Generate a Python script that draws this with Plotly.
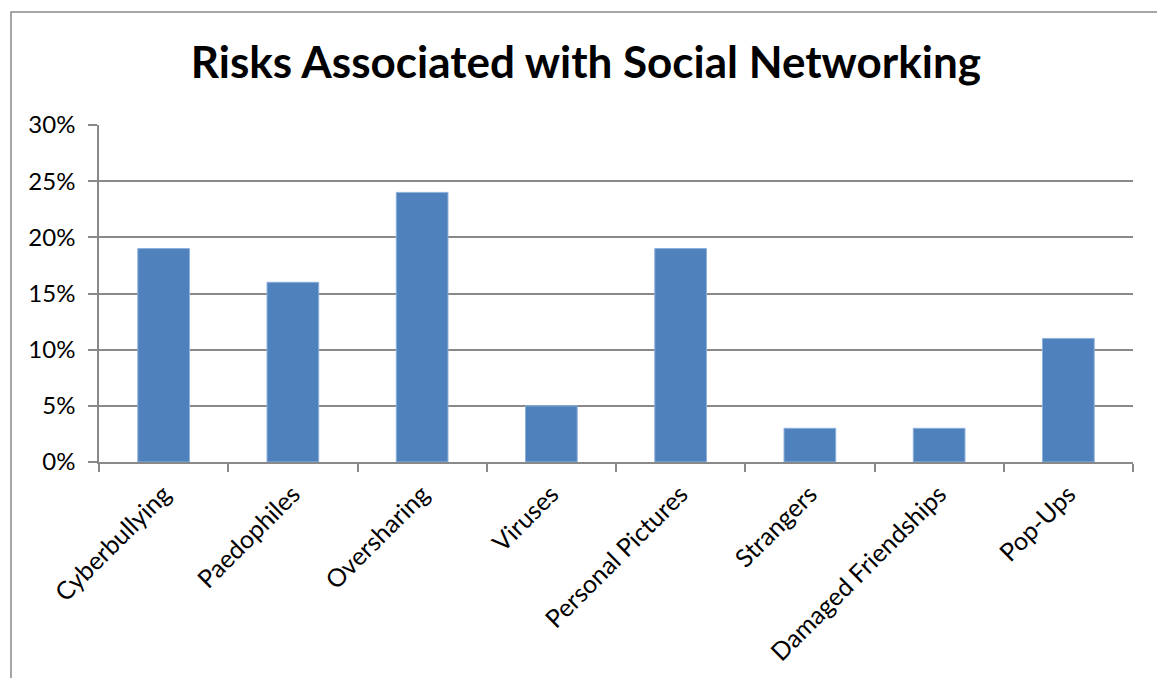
import plotly.graph_objects as go

categories = ["Cyberbullying", "Paedophiles", "Oversharing", "Viruses",
              "Personal Pictures", "Strangers", "Damaged Friendships", "Pop-Ups"]
values = [0.19, 0.16, 0.24, 0.05, 0.19, 0.03, 0.03, 0.11]
y_ticks = [0, 0.05, 0.10, 0.15, 0.20, 0.25, 0.30]
y_tick_labels = ["0%", "5%", "10%", "15%", "20%", "25%", "30%"]
title_text = "Risks Associated with Social Networking"

FONT = "Lato, Carlito, Calibri, sans-serif"
GREY = "#898989"

fig = go.Figure(go.Bar(
    x=categories, y=values,
    marker=dict(color="#4F81BD", line=dict(color="#8EB1DB", width=1)),
))

fig.update_layout(
    width=1165, height=678,
    margin=dict(l=91, r=40, t=117, b=224),
    paper_bgcolor="white", plot_bgcolor="white",
    showlegend=False,
    bargap=0.6,
    title=dict(text=f"<b>{title_text}</b>", x=0.496, xref="container", xanchor="center",
               y=0.920, yref="container", yanchor="middle",
               font=dict(family=FONT, size=44, color="black")),
    font=dict(family=FONT, size=24, color="black"),
)

fig.update_xaxes(
    showline=True, linecolor=GREY, linewidth=1.5,
    ticks="outside", tickson="boundaries", ticklen=8, tickcolor=GREY, tickwidth=1.5,
    ticklabelstandoff=6,
    tickangle=-45, tickfont=dict(family=FONT, size=25, color="black"),
    showgrid=False,
)
fig.update_yaxes(
    range=[0, 0.30], tickvals=y_ticks, ticktext=y_tick_labels,
    showline=True, linecolor=GREY, linewidth=1.5,
    ticks="outside", ticklen=9, tickcolor=GREY, tickwidth=1.5,
    ticklabelstandoff=8,
    showgrid=True, gridcolor=GREY, gridwidth=1.5,
    zeroline=False,
    tickfont=dict(family=FONT, size=24, color="black"),
)

fig.add_shape(type="rect", xref="paper", yref="paper",
              x0=-0.0851, x1=1.028, y0=-0.7, y1=1.335,
              line=dict(color=GREY, width=1.5), fillcolor="rgba(0,0,0,0)", layer="below")

fig.write_html("out.html")
